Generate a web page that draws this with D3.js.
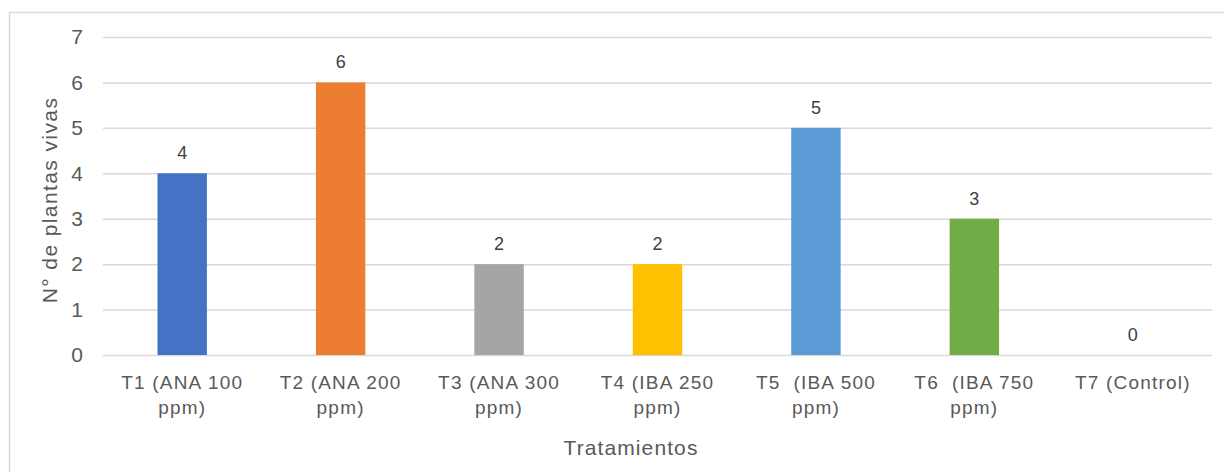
<!DOCTYPE html>
<html>
<head>
<meta charset="utf-8">
<script src="https://cdn.jsdelivr.net/npm/d3@7"></script>
<style>
  body { margin: 0; background: #fff; }
  svg { display: block; font-family: "Liberation Sans", Arial, sans-serif; }
</style>
</head>
<body>
<svg id="chart" width="1224" height="472"></svg>
<script>
// data
const categories = ["T1", "T2", "T3", "T4", "T5", "T6", "T7"];
const labelLines = [
  ["T1 (ANA 100", "ppm)"],
  ["T2 (ANA 200", "ppm)"],
  ["T3 (ANA 300", "ppm)"],
  ["T4 (IBA 250", "ppm)"],
  ["T5  (IBA 500", "ppm)"],
  ["T6  (IBA 750", "ppm)"],
  ["T7 (Control)"]
];
const values = [4, 6, 2, 2, 5, 3, 0];
const colours = ["#4472C4", "#ED7D31", "#A5A5A5", "#FFC000", "#5B9BD5", "#70AD47", "#264478"];
const yTicks = [0, 1, 2, 3, 4, 5, 6, 7];

const svg = d3.select("#chart");
const margin = { top: 37, right: 12, bottom: 117, left: 103 };
const width = 1224 - margin.left - margin.right;
const height = 472 - margin.top - margin.bottom;

// outer chart border
svg.append("rect")
  .attr("x", 9.5).attr("y", 12.5)
  .attr("width", 1230).attr("height", 480)
  .attr("fill", "none")
  .attr("stroke", "#d9d9d9")
  .attr("stroke-width", 1.5);

const g = svg.append("g").attr("transform", `translate(${margin.left},${margin.top})`);

const x = d3.scaleBand().domain(categories).range([0, width]).paddingInner(0.688).paddingOuter(0.344);
const y = d3.scaleLinear().domain([0, 7]).range([height, 0]);

// gridlines
g.append("g")
  .attr("class", "grid")
  .call(d3.axisLeft(y).tickValues(yTicks).tickSize(-width).tickFormat(""))
  .call(a => a.select(".domain").remove())
  .call(a => a.selectAll("line").attr("stroke", "#d9d9d9").attr("stroke-width", 1.5));

// y axis labels
g.append("g")
  .attr("class", "y-axis")
  .call(d3.axisLeft(y).tickValues(yTicks).tickSize(0).tickPadding(20).tickFormat(d3.format("d")))
  .call(a => a.select(".domain").remove())
  .call(a => a.selectAll("text").attr("fill", "#595959").style("font-size", "21px"));

// bars
g.selectAll("rect.bar")
  .data(values)
  .enter()
  .append("rect")
  .attr("class", "bar")
  .attr("x", (d, i) => x(categories[i]))
  .attr("y", d => y(d))
  .attr("width", x.bandwidth())
  .attr("height", d => height - y(d))
  .attr("fill", (d, i) => colours[i]);

// data labels
g.selectAll("text.value")
  .data(values)
  .enter()
  .append("text")
  .attr("class", "value")
  .attr("x", (d, i) => x(categories[i]) + x.bandwidth() / 2)
  .attr("y", d => y(d) - 14)
  .attr("text-anchor", "middle")
  .attr("fill", "#404040")
  .style("font-size", "18px")
  .text(d => d);

// x axis category labels (two lines)
const xAxis = g.append("g")
  .attr("class", "x-axis")
  .attr("transform", `translate(0,${height})`)
  .call(d3.axisBottom(x).tickSize(0).tickFormat(""))
  .call(a => a.select(".domain").remove());

xAxis.selectAll(".tick").each(function(d, i) {
  const t = d3.select(this).append("text")
    .attr("fill", "#595959")
    .attr("text-anchor", "middle")
    .style("font-size", "19px")
    .style("letter-spacing", "1.2px")
    .style("white-space", "pre")
    .attr("y", 34);
  labelLines[i].forEach((line, j) => {
    t.append("tspan").attr("x", 0).attr("dy", j === 0 ? 0 : 25).text(line);
  });
});

// axis titles
svg.append("text")
  .attr("x", 631)
  .attr("y", 455)
  .attr("text-anchor", "middle")
  .attr("fill", "#595959")
  .style("font-size", "21px")
  .style("letter-spacing", "1.1px")
  .text("Tratamientos");

svg.append("text")
  .attr("transform", `translate(57,200) rotate(-90)`)
  .attr("text-anchor", "middle")
  .attr("fill", "#595959")
  .style("font-size", "21px")
  .style("letter-spacing", "1.4px")
  .text("N° de plantas vivas");
</script>
</body>
</html>
